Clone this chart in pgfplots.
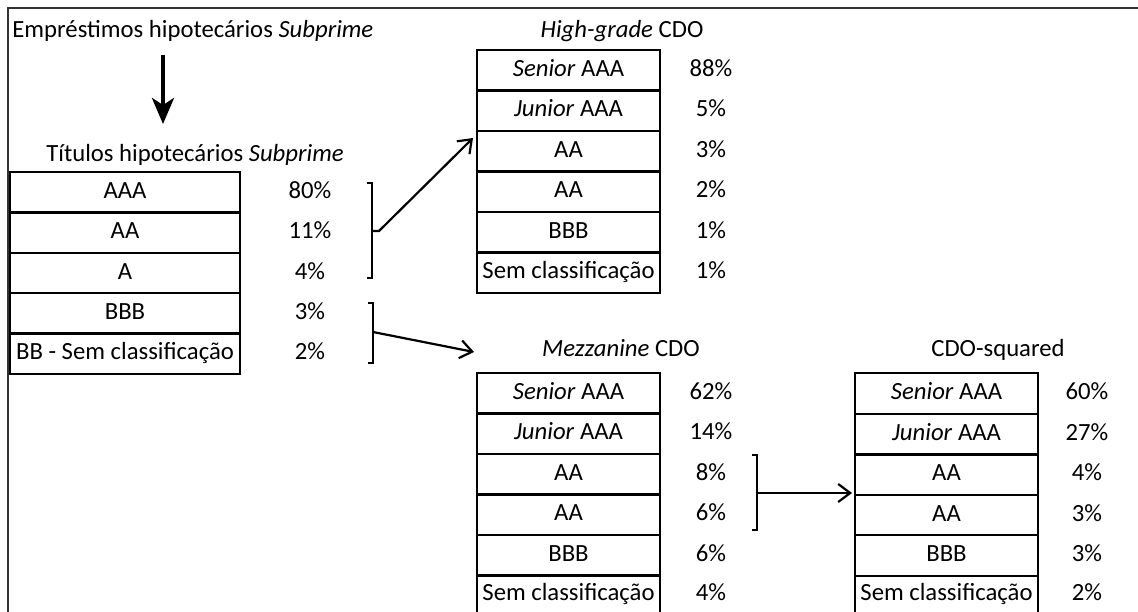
\documentclass[border=0pt]{standalone}
\usepackage{pgfplots}
\pgfplotsset{compat=1.18}
\usepackage{fontspec}
\setmainfont{Carlito}
\usetikzlibrary{arrows.meta}
\begin{document}
\begin{tikzpicture}[every node/.append style={font=\fontsize{12.4}{14}\selectfont},
  cell/.style={anchor=center, text height=8.7bp, text depth=2.6bp, inner sep=0pt},
  box/.style={line width=1.25bp, black},
  brk/.style={line width=1.1bp, black}]
\begin{axis}[
  width=569bp, height=306bp, scale only axis,
  xmin=0, xmax=1138, ymin=0, ymax=612, y dir=reverse,
  hide axis, clip=false,
]
% ---- percentages (data) ----
\addplot[only marks, mark=none, point meta=explicit symbolic,
  nodes near coords={\pgfplotspointmeta\%}, nodes near coords align={center},
  every node near coord/.append style={cell}]
  table[x=x, y=y, meta=p] {
x y p
310 192.2 80
310 232.7 11
310 273.0 4
310 313.2 3
310 353.7 2
};
\addplot[only marks, mark=none, point meta=explicit symbolic,
  nodes near coords={\pgfplotspointmeta\%}, nodes near coords align={center},
  every node near coord/.append style={cell}]
  table[x=x, y=y, meta=p] {
x y p
711 70.2 88
711 110.7 5
711 151.2 3
711 191.7 2
711 232.2 1
711 272.7 1
};
\addplot[only marks, mark=none, point meta=explicit symbolic,
  nodes near coords={\pgfplotspointmeta\%}, nodes near coords align={center},
  every node near coord/.append style={cell}]
  table[x=x, y=y, meta=p] {
x y p
711 393.2 62
711 433.7 14
711 474.2 8
711 514.7 6
711 555.2 6
711 594.0 4
};
\addplot[only marks, mark=none, point meta=explicit symbolic,
  nodes near coords={\pgfplotspointmeta\%}, nodes near coords align={center},
  every node near coord/.append style={cell}]
  table[x=x, y=y, meta=p] {
x y p
1087 393.5 60
1087 434.2 27
1087 474.7 4
1087 515.0 3
1087 555.5 3
1087 594.0 2
};

% ---- outer frame ----
\draw[line width=1.1bp, black!80] (axis cs:8,612) -- (axis cs:8,8) -- (axis cs:1138,8);

% ---- titles ----
\node[cell, anchor=base west] at (axis cs:12,38) {Empréstimos hipotecários \textit{Subprime}};
\draw[line width=2bp, -{Stealth[length=13bp, width=11bp, inset=3.5bp]}] (axis cs:163,55) -- (axis cs:163,124);
\node[cell] at (axis cs:195,155) {Títulos hipotecários \textit{Subprime}};
\node[cell] at (axis cs:622,31) {\textit{High-grade} CDO};
\node[cell] at (axis cs:621,350) {\textit{Mezzanine} CDO};
\node[cell] at (axis cs:998,350) {CDO-squared};

% ---- left table ----
\draw[box] (axis cs:10,172) rectangle (axis cs:240,374);
\draw[box] (axis cs:10,212.5) -- (axis cs:240,212.5);
\draw[box] (axis cs:10,253) -- (axis cs:240,253);
\draw[box] (axis cs:10,293) -- (axis cs:240,293);
\draw[box] (axis cs:10,333.5) -- (axis cs:240,333.5);
\node[cell] at (axis cs:125,192.2) {AAA};
\node[cell] at (axis cs:125,232.7) {AA};
\node[cell] at (axis cs:125,273.0) {A};
\node[cell] at (axis cs:125,313.2) {BBB};
\node[cell] at (axis cs:125,353.7) {BB - Sem classificação};

% ---- high-grade table ----
\draw[box] (axis cs:477,50) rectangle (axis cs:660,293);
\draw[box] (axis cs:477,90.5) -- (axis cs:660,90.5);
\draw[box] (axis cs:477,131) -- (axis cs:660,131);
\draw[box] (axis cs:477,171.5) -- (axis cs:660,171.5);
\draw[box] (axis cs:477,212) -- (axis cs:660,212);
\draw[box] (axis cs:477,252.5) -- (axis cs:660,252.5);
\node[cell] at (axis cs:568.5,70.2) {\textit{Senior} AAA};
\node[cell] at (axis cs:568.5,110.7) {\textit{Junior} AAA};
\node[cell] at (axis cs:568.5,151.2) {AA};
\node[cell] at (axis cs:568.5,191.7) {AA};
\node[cell] at (axis cs:568.5,232.2) {BBB};
\node[cell] at (axis cs:568.5,272.7) {Sem classificação};

% ---- mezzanine table ----
\draw[box] (axis cs:477,612) -- (axis cs:477,373) -- (axis cs:660,373) -- (axis cs:660,612);
\draw[box] (axis cs:477,413.5) -- (axis cs:660,413.5);
\draw[box] (axis cs:477,454) -- (axis cs:660,454);
\draw[box] (axis cs:477,494.5) -- (axis cs:660,494.5);
\draw[box] (axis cs:477,535) -- (axis cs:660,535);
\draw[box] (axis cs:477,575.5) -- (axis cs:660,575.5);
\node[cell] at (axis cs:568.5,393.2) {\textit{Senior} AAA};
\node[cell] at (axis cs:568.5,433.7) {\textit{Junior} AAA};
\node[cell] at (axis cs:568.5,474.2) {AA};
\node[cell] at (axis cs:568.5,514.7) {AA};
\node[cell] at (axis cs:568.5,555.2) {BBB};
\node[cell] at (axis cs:568.5,594.0) {Sem classificação};

% ---- CDO-squared table ----
\draw[box] (axis cs:855,612) -- (axis cs:855,373) -- (axis cs:1038,373) -- (axis cs:1038,612);
\draw[box] (axis cs:855,414) -- (axis cs:1038,414);
\draw[box] (axis cs:855,454.5) -- (axis cs:1038,454.5);
\draw[box] (axis cs:855,495) -- (axis cs:1038,495);
\draw[box] (axis cs:855,535) -- (axis cs:1038,535);
\draw[box] (axis cs:855,576) -- (axis cs:1038,576);
\node[cell] at (axis cs:946.5,393.5) {\textit{Senior} AAA};
\node[cell] at (axis cs:946.5,434.2) {\textit{Junior} AAA};
\node[cell] at (axis cs:946.5,474.7) {AA};
\node[cell] at (axis cs:946.5,515.0) {AA};
\node[cell] at (axis cs:946.5,555.5) {BBB};
\node[cell] at (axis cs:946.5,594.0) {Sem classificação};

% ---- brackets and arrows ----
\draw[brk] (axis cs:367,183) -- (axis cs:372,183) -- (axis cs:372,278) -- (axis cs:367,278);
\draw[brk, -{Straight Barb[length=6bp, width=9bp]}] (axis cs:372,231) -- (axis cs:379,231) -- (axis cs:473,138);
\draw[brk] (axis cs:368,303) -- (axis cs:373,303) -- (axis cs:373,363) -- (axis cs:368,363);
\draw[brk, -{Straight Barb[length=6bp, width=9bp]}] (axis cs:373,332) -- (axis cs:474,352);
\draw[brk] (axis cs:752,455) -- (axis cs:757,455) -- (axis cs:757,530) -- (axis cs:752,530);
\draw[brk, -{Straight Barb[length=6bp, width=9bp]}] (axis cs:757,493) -- (axis cs:852,493);
\end{axis}
\pgfresetboundingbox
\useasboundingbox (current axis.south west) rectangle (current axis.north east);
\end{tikzpicture}
\end{document}
